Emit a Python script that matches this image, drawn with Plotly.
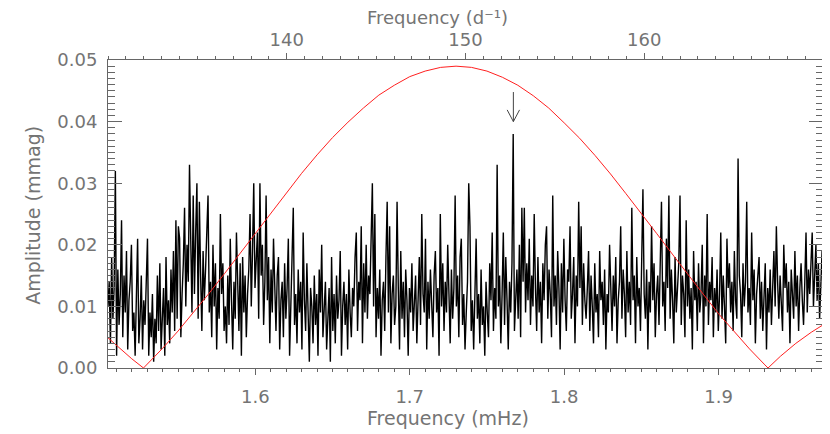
import plotly.graph_objects as go

# Amplitude spectrum, evenly spaced in frequency (mHz); amplitudes in units of 0.001 mmag
freq_start = 1.5046
freq_step = 0.0008
amp_umag = [
    10, 14, 4, 18, 8, 13, 32, 2, 16, 7,
    12, 24, 5, 15, 9, 19, 3, 11, 14, 20,
    6, 9, 2, 13, 21, 4, 8, 15, 3, 11,
    7, 14, 21, 2, 9, 5, 12, 1, 8, 4,
    15, 6, 17, 3, 10, 13, 2, 18, 7, 11,
    4, 16, 9, 19, 6, 24, 8, 23, 21, 5,
    12, 17, 26, 10, 20, 14, 33, 18, 9, 28,
    12, 22, 30, 8, 27, 15, 6, 19, 11, 16,
    24, 28, 9, 14, 5, 20, 10, 17, 3, 13,
    8, 25, 12, 17, 6, 10, 4, 15, 7, 21,
    11, 3, 14, 8, 22, 13, 6, 17, 2, 18,
    9, 15, 5, 12, 16, 25, 10, 19, 30, 13,
    17, 22, 8, 30, 15, 20, 7, 14, 28, 11,
    18, 4, 16, 9, 21, 12, 6, 15, 18, 3,
    11, 14, 5, 17, 8, 13, 21, 2, 10, 15,
    26, 7, 12, 4, 16, 9, 14, 3, 22, 11,
    6, 17, 8, 1, 13, 10, 4, 15, 7, 12,
    2, 16, 9, 20, 5, 11, 14, 3, 9, 13,
    1, 18, 6, 12, 4, 15, 8, 11, 19, 2,
    10, 14, 7, 12, 3, 16, 9, 5, 13, 10,
    18, 22, 6, 14, 11, 23, 4, 17, 9, 20,
    8, 15, 12, 19, 30, 10, 25, 5, 13, 8,
    16, 2, 11, 14, 6, 18, 27, 9, 23, 4,
    12, 15, 7, 10, 27, 13, 3, 19, 8, 14,
    5, 16, 11, 2, 13, 9, 17, 6, 12, 15,
    4, 10, 18, 7, 25, 12, 9, 21, 3, 14,
    8, 16, 11, 5, 15, 19, 9, 13, 2, 25,
    10, 17, 6, 14, 9, 20, 12, 4, 16, 8,
    13, 28, 10, 15, 5, 18, 21, 7, 12, 3,
    9, 14, 30, 23, 6, 11, 3, 13, 21, 8,
    12, 4, 16, 7, 10, 2, 14, 9, 5, 17,
    11, 22, 6, 13, 8, 33, 10, 15, 4, 12,
    22, 7, 18, 11, 3, 14, 9, 17, 38, 6,
    12, 16, 8, 20, 5, 26, 14, 26, 9, 17,
    11, 21, 7, 15, 10, 25, 13, 6, 18, 9,
    14, 4, 17, 11, 20, 23, 8, 16, 12, 5,
    28, 10, 15, 7, 19, 13, 3, 17, 9, 21,
    11, 6, 16, 14, 23, 8, 12, 18, 4, 15,
    10, 27, 13, 23, 7, 17, 11, 8, 13, 19,
    6, 15, 10, 4, 17, 9, 12, 5, 19, 11,
    14, 7, 16, 3, 12, 9, 20, 13, 6, 15,
    10, 18, 4, 11, 14, 23, 8, 16, 12, 5,
    19, 9, 14, 7, 26, 11, 15, 4, 18, 10,
    13, 6, 20, 29, 12, 8, 16, 3, 14, 9,
    23, 11, 17, 5, 12, 15, 7, 19, 27, 10,
    14, 6, 21, 13, 28, 8, 16, 11, 4, 18,
    9, 13, 17, 28, 7, 15, 12, 5, 24, 10,
    16, 8, 13, 3, 19, 11, 14, 6, 17, 9,
    12, 20, 4, 15, 10, 25, 7, 14, 11, 18,
    5, 13, 9, 16, 6, 12, 22, 8, 15, 10,
    4, 21, 13, 17, 9, 14, 6, 19, 11, 8,
    34, 15, 12, 5, 17, 10, 14, 27, 9, 13,
    7, 22, 11, 16, 4, 12, 15, 18, 8, 14,
    6, 11, 17, 3, 13, 9, 16, 7, 12, 19,
    10, 23, 14, 8, 15, 11, 6, 20, 13, 17,
    9, 14, 4, 16, 12, 8, 19, 10, 15, 6,
    13, 17, 11, 7, 14, 22, 9, 16, 12, 18,
    22, 10, 15, 20, 11, 17, 8, 14, 19, 12,
]
amp_mmag = [a / 1000 for a in amp_umag]

# red amplitude-response curve
curve_freq = [1.50463, 1.51, 1.52, 1.5276, 1.53, 1.54, 1.55, 1.56, 1.57, 1.58,
              1.59, 1.60, 1.61, 1.62, 1.63, 1.64, 1.65, 1.66, 1.67, 1.68,
              1.69, 1.70, 1.71, 1.72, 1.73, 1.74, 1.75, 1.76, 1.77, 1.78,
              1.79, 1.80, 1.81, 1.82, 1.83, 1.84, 1.85, 1.86, 1.87, 1.88,
              1.89, 1.90, 1.91, 1.92, 1.93, 1.932, 1.94, 1.95, 1.96, 1.96759]
curve_amp = [0.0049, 0.0037, 0.0015, 0.0, 0.0006, 0.0032, 0.0060, 0.0090, 0.0121, 0.0153,
             0.0186, 0.0219, 0.0252, 0.0285, 0.0316, 0.0346, 0.0374, 0.0399, 0.0422, 0.0443,
             0.0459, 0.0473, 0.0482, 0.0488, 0.0490, 0.0488, 0.0482, 0.0472, 0.0459, 0.0442,
             0.0422, 0.0398, 0.0373, 0.0345, 0.0315, 0.0283, 0.0251, 0.0218, 0.0185, 0.0152,
             0.0120, 0.0088, 0.0059, 0.0031, 0.0005, 0.0, 0.0019, 0.0040, 0.0058, 0.0070]

# marked peak
peak_freq = 1.7671
arrow_top, arrow_tip = 0.0448, 0.0400

MHZ_TO_CD = 86.4
x_range = [130 / MHZ_TO_CD, 170 / MHZ_TO_CD]

axis_col = '#666666'
text_col = '#747474'
font_family = 'DejaVu Sans'

fig = go.Figure()

fig.add_trace(go.Scatter(
    x0=freq_start, dx=freq_step, y=amp_mmag,
    mode='lines', line=dict(color='black', width=1.4),
    showlegend=False, hoverinfo='skip'
))

fig.add_trace(go.Scatter(
    x=curve_freq, y=curve_amp,
    mode='lines', line=dict(color='#ff2020', width=1),
    showlegend=False, hoverinfo='skip'
))

# empty trace to carry the top axis in d^-1
fig.add_trace(go.Scatter(x=[], y=[], xaxis='x2', showlegend=False))

# arrow
arr = dict(type='line', xref='x', yref='y', line=dict(color='#444444', width=1))
fig.add_shape(**arr, x0=peak_freq, x1=peak_freq, y0=arrow_top, y1=arrow_tip)
fig.add_shape(**arr, x0=peak_freq - 0.0040, x1=peak_freq, y0=arrow_tip + 0.0019, y1=arrow_tip)
fig.add_shape(**arr, x0=peak_freq + 0.0040, x1=peak_freq, y0=arrow_tip + 0.0019, y1=arrow_tip)

# the page body adds an 8px offset, so the figure is drawn 8px smaller and shifted
fig.update_layout(
    width=822, height=426,
    margin=dict(l=100, r=7, t=52, b=66),
    plot_bgcolor='white', paper_bgcolor='white',
    font=dict(family=font_family, size=18, color=text_col),
    hovermode=False,
    xaxis=dict(
        range=x_range, tickmode='linear', tick0=1.5, dtick=0.1, tickformat='.1f',
        ticks='outside', ticklen=6, tickcolor=axis_col, ticklabelstandoff=6,
        showline=True, linecolor=axis_col, linewidth=1,
        showgrid=False, zeroline=False, automargin=False,
        minor=dict(ticks='outside', ticklen=3, tick0=1.5, dtick=0.01, tickcolor=axis_col),
    ),
    xaxis2=dict(
        range=[130, 170], overlaying='x', side='top', anchor='y',
        tickmode='array', tickvals=[140, 150, 160],
        ticks='outside', ticklen=6, tickcolor=axis_col, ticklabelstandoff=0,
        showline=True, linecolor=axis_col, linewidth=1,
        showgrid=False, zeroline=False, automargin=False,
        minor=dict(ticks='outside', ticklen=3, tickmode='linear', tick0=130, dtick=1,
                   tickcolor=axis_col),
    ),
    yaxis=dict(
        range=[0, 0.05], tickmode='linear', tick0=0, dtick=0.01, tickformat='.2f',
        ticks='inside', ticklen=14, tickcolor=axis_col, ticklabelstandoff=6,
        showline=True, linecolor=axis_col, linewidth=1, mirror='ticks',
        showgrid=False, zeroline=False, automargin=False,
        minor=dict(ticks='inside', ticklen=7, tick0=0, dtick=0.001, tickcolor=axis_col),
    ),
    annotations=[
        dict(text='Frequency (mHz)', xref='paper', yref='paper', x=0.4755, y=-0.162,
             xanchor='center', yanchor='middle', showarrow=False,
             font=dict(size=19, color=text_col)),
        dict(text='Frequency (d⁻¹)', xref='paper', yref='paper', x=0.4615, y=1.139,
             xanchor='center', yanchor='middle', showarrow=False,
             font=dict(size=18, color=text_col)),
        dict(text='Amplitude (mmag)', xref='paper', yref='paper', x=-0.105, y=0.497,
             xanchor='center', yanchor='middle', showarrow=False, textangle=-90,
             font=dict(size=19, color=text_col)),
    ],
)

fig.write_html("out.html")
